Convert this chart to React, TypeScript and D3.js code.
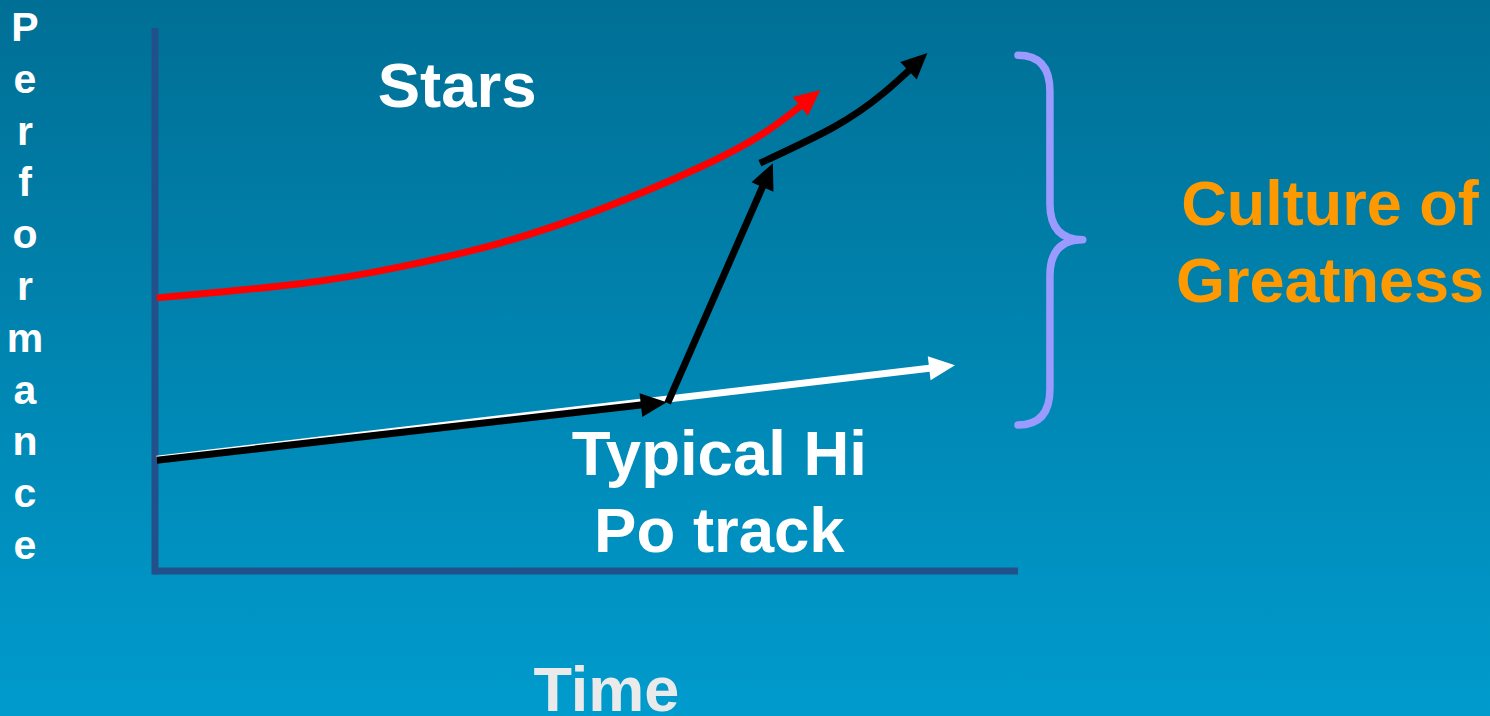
import React, { useEffect, useRef } from "react";
import * as d3 from "d3";

const W = 1490;
const H = 716;

// Conceptual axes: time (x) and performance (y), both 0..100
const timeDomain: [number, number] = [0, 100];
const perfDomain: [number, number] = [0, 100];

// Series (time, performance)
const starsTrack: [number, number][] = [
  [0.2, 50.3], [16.8, 52.9], [28.4, 56.0], [40.0, 60.4], [51.6, 66.6], [63.2, 74.4], [70.9, 81.0], [77.1, 88.6],
];
const typicalTrack: [number, number][] = [[0.2, 20.6], [92.7, 37.9]];
const hiPoFlat: [number, number][] = [[0.2, 20.4], [59.3, 31.1]];
const hiPoJump: [number, number][] = [[59.4, 30.9], [71.6, 75.1]];
const hiPoRise: [number, number][] = [[70.1, 75.1], [78.6, 81.7], [84.4, 88.0], [89.5, 95.4]];

// Brace (time positions, performance extent)
const braceTime = { start: 100, mid: 103.7, tip: 107.5 };
const bracePerf = { top: 95.0, mid: 61.0, bottom: 26.9 };

const perfLetters = "Performance".split("");
const starsLabel = "Stars";
const typicalLabel = ["Typical Hi", "Po track"];
const cultureLabel = ["Culture of", "Greatness"];
const timeLabel = "Time";

const FONT = "'Liberation Sans', Arial, Helvetica, sans-serif";

export default function App() {
  const ref = useRef<SVGSVGElement | null>(null);

  const x = d3.scaleLinear().domain(timeDomain).range([155, 1018]);
  const y = d3.scaleLinear().domain(perfDomain).range([571, 28]);
  const letterY = d3.scalePoint<number>().domain(perfLetters.map((_, i) => i)).range([41, 559]);

  const line = d3
    .line<[number, number]>()
    .x((d) => x(d[0]))
    .y((d) => y(d[1]))
    .curve(d3.curveNatural);

  const series = [
    { id: "typical", data: typicalTrack, color: "#ffffff" },
    { id: "flat", data: hiPoFlat, color: "#000000" },
    { id: "stars", data: starsTrack, color: "#ff0000" },
    { id: "jump", data: hiPoJump, color: "#000000" },
    { id: "rise", data: hiPoRise, color: "#000000" },
  ];

  useEffect(() => {
    const svg = d3.select(ref.current);
    const g = svg.select<SVGGElement>("g.series");
    g.selectAll("*").remove();
    const headLen = 26;
    const headHalf = 12;
    series.forEach((s) => {
      const p = g
        .append("path")
        .attr("d", line(s.data) as string)
        .attr("fill", "none")
        .attr("stroke", s.color)
        .attr("stroke-width", 7);
      const node = p.node() as SVGPathElement;
      const L = node.getTotalLength();
      p.attr("stroke-dasharray", `${L - 13} ${L + 20}`);
      const tip = node.getPointAtLength(L);
      const base = node.getPointAtLength(Math.max(0, L - headLen));
      const dx = tip.x - base.x;
      const dy = tip.y - base.y;
      const len = Math.hypot(dx, dy) || 1;
      const ux = dx / len;
      const uy = dy / len;
      const bx = tip.x - ux * headLen;
      const by = tip.y - uy * headLen;
      const pts = [
        [tip.x, tip.y],
        [bx - uy * headHalf, by + ux * headHalf],
        [bx + uy * headHalf, by - ux * headHalf],
      ];
      g.append("polygon")
        .attr("points", pts.map((q) => q.join(",")).join(" "))
        .attr("fill", s.color);
    });
  }, []);

  const bx0 = x(braceTime.start);
  const bxm = x(braceTime.mid);
  const bxt = x(braceTime.tip);
  const byT = y(bracePerf.top);
  const byM = y(bracePerf.mid);
  const byB = y(bracePerf.bottom);
  const r = 36;
  const bracePath = [
    `M${bx0},${byT}`,
    `Q${bxm},${byT} ${bxm},${byT + r}`,
    `L${bxm},${byM - r}`,
    `Q${bxm},${byM} ${bxt},${byM}`,
    `Q${bxm},${byM} ${bxm},${byM + r}`,
    `L${bxm},${byB - r}`,
    `Q${bxm},${byB} ${bx0},${byB}`,
  ].join(" ");

  return (
    <svg
      ref={ref}
      width={W}
      height={H}
      style={{ position: "fixed", left: 0, top: 0, display: "block" }}
      fontFamily={FONT}
    >
      <defs>
        <linearGradient id="bg" x1="0" y1="0" x2="0" y2="1">
          <stop offset="0" stopColor="#006f95" />
          <stop offset="1" stopColor="#009bcd" />
        </linearGradient>
      </defs>
      <rect x={0} y={0} width={W} height={H} fill="url(#bg)" />

      {/* axes */}
      <line x1={x(0)} x2={x(0)} y1={y(100)} y2={y(0) + 3.5} stroke="#22508a" strokeWidth={7} />
      <line x1={x(0)} x2={x(100)} y1={y(0)} y2={y(0)} stroke="#22508a" strokeWidth={7} />

      <g className="series" />

      {/* brace */}
      <path d={bracePath} fill="none" stroke="#9b9bff" strokeWidth={7.5} strokeLinecap="round" strokeLinejoin="round" />

      {/* vertical axis label */}
      {perfLetters.map((ch, i) => (
        <text key={i} x={25} y={letterY(i)} fontSize={41} fontWeight="bold" fill="#ffffff" textAnchor="middle">
          {ch}
        </text>
      ))}

      <text x={x(35)} y={y(85.5)} fontSize={63.5} fontWeight="bold" fill="#ffffff" textAnchor="middle">
        {starsLabel}
      </text>

      {typicalLabel.map((t, i) => (
        <text key={t} x={x(65.4)} y={y(17.6) + i * 77} fontSize={63.5} fontWeight="bold" fill="#ffffff" textAnchor="middle">
          {t}
        </text>
      ))}

      {cultureLabel.map((t, i) => (
        <text key={t} x={1330} y={225 + i * 77} fontSize={63} fontWeight="bold" fill="#ff9900" textAnchor="middle">
          {t}
        </text>
      ))}

      <text x={x(52.3)} y={711} fontSize={63} fontWeight="bold" fill="#eaeaea" textAnchor="middle">
        {timeLabel}
      </text>
    </svg>
  );
}
